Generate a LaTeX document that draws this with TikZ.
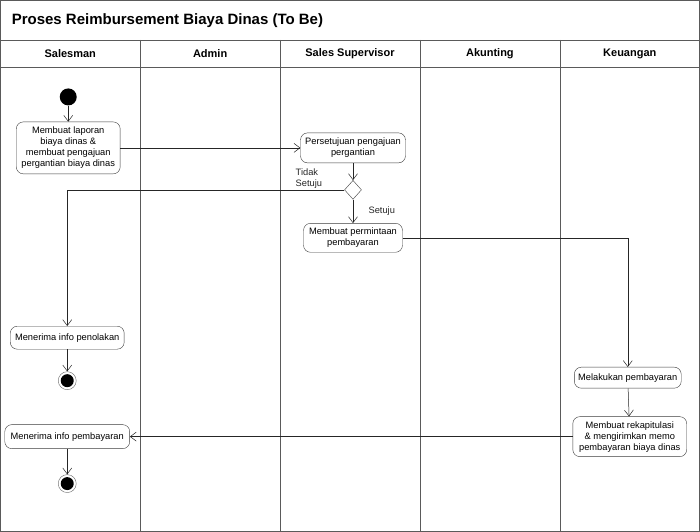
\documentclass[tikz,border=0pt]{standalone}
\usepackage{fontspec}
\setmainfont{Liberation Sans}
\usetikzlibrary{shapes,arrows.meta,positioning,calc}
\definecolor{framegray}{RGB}{90,90,90}
\definecolor{boxgray}{RGB}{60,60,60}

\begin{document}
\begin{tikzpicture}[
    x=1pt, y=-1pt,
    action/.style={draw=boxgray, rounded corners=7pt, align=center, inner sep=2pt, font=\fontsize{9.3}{11}\selectfont},
    lane/.style={font=\fontsize{11}{13}\selectfont\bfseries},
    flow/.style={-{Straight Barb[length=6pt, width=9pt]}, black!85, line width=0.5pt},
    startdot/.style={circle, fill=black, minimum size=17pt, inner sep=0pt},
    enddot/.style={circle, draw=black!60, fill=white, minimum size=18pt, inner sep=0pt, path picture={\fill[black] (path picture bounding box.center) circle (6.5pt);}},
    decision/.style={diamond, draw=boxgray, fill=white, minimum width=17pt, minimum height=19pt, inner sep=0pt},
    guard/.style={font=\fontsize{9.3}{11}\selectfont, align=left}
]

% Frame
\fill[white] (0,0) rectangle (700,532);
\draw[framegray, line width=0.6pt] (0.5,0.5) rectangle (699.5,531.5);
\draw[framegray, line width=0.6pt] (0,40) -- (700,40);
\draw[framegray, line width=0.6pt] (0,67) -- (700,67);
\foreach \xx in {140,280,420,560}
    \draw[framegray, line width=0.6pt] (\xx,40) -- (\xx,532);

% Title
\node[anchor=west, font=\fontsize{15}{17}\selectfont\bfseries] (title) at (8,21) {Proses Reimbursement Biaya Dinas (To Be)};

% Lanes
\node[lane] (salesman) at (70,54) {Salesman};
\node[lane] (admin) at (210,54) {Admin};
\node[lane] (supervisor) at (350,54) {Sales Supervisor};
\node[lane] (akunting) at (490,54) {Akunting};
\node[lane] (keuangan) at (630,54) {Keuangan};

% Salesman
\node[startdot] (start) at (68,97) {};
\node[action, minimum width=104pt, minimum height=52pt] (laporan) at (68,148) {Membuat laporan\\biaya dinas \&\\membuat pengajuan\\pergantian biaya dinas};
\node[action, minimum width=114pt, minimum height=23pt] (tolak) at (67,338) {Menerima info penolakan};
\node[enddot] (end1) at (67,381) {};
\node[action, minimum width=125pt, minimum height=24pt] (terima) at (67,437) {Menerima info pembayaran};
\node[enddot] (end2) at (67,484) {};

% Sales Supervisor
\node[action, minimum width=105pt, minimum height=30pt] (setuju) at (353,148) {Persetujuan pengajuan\\pergantian};
\node[decision] (dec) at (353,190) {};
\node[action, minimum width=99pt, minimum height=29pt] (minta) at (353,238) {Membuat permintaan\\pembayaran};

% Keuangan
\node[action, minimum width=107pt, minimum height=21pt] (bayar) at (628,378) {Melakukan pembayaran};
\node[action, minimum width=114pt, minimum height=40pt] (rekap) at (630,437) {Membuat rekapitulasi\\\& mengirimkan memo\\pembayaran biaya dinas};

% Arrows
\draw[flow] (start) -- (laporan);
\draw[flow] (laporan) -- (setuju);
\draw[flow] (setuju) -- (dec);
\draw[flow] (dec.west) -| node[guard, pos=0, anchor=south east, inner sep=1pt, xshift=-21pt] {Tidak\\Setuju} (tolak.north);
\draw[flow] (dec) -- node[guard, right=12pt] {Setuju} (minta);
\draw[flow] (tolak) -- (end1);
\draw[flow] (minta.east) -| (bayar.north);
\draw[flow] (bayar) -- (rekap);
\draw[flow] (rekap) -- (terima);
\draw[flow] (terima) -- (end2);

\end{tikzpicture}
\end{document}
